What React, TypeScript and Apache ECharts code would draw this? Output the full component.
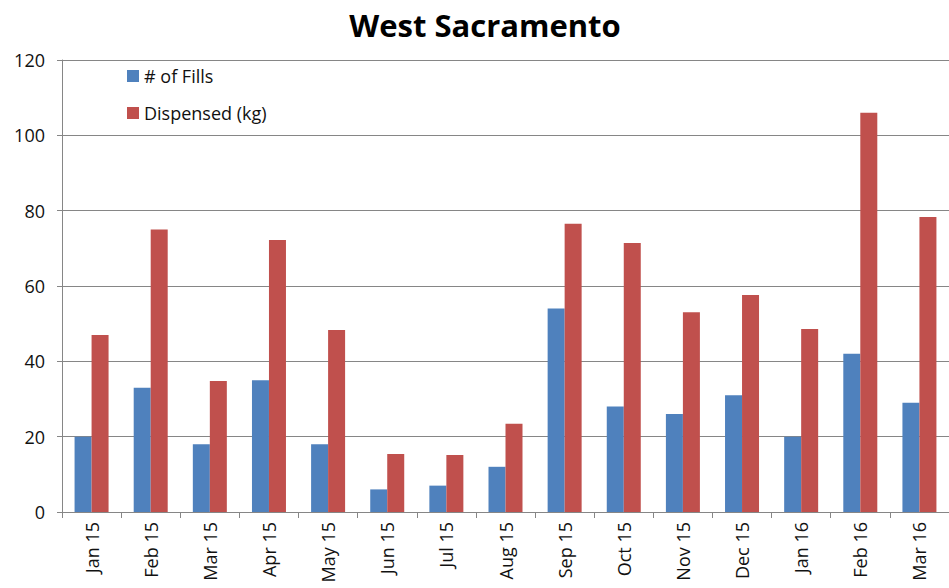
import React, { useEffect, useRef } from "react";
import * as echarts from "echarts";

const categories = ["Jan 15", "Feb 15", "Mar 15", "Apr 15", "May 15", "Jun 15", "Jul 15", "Aug 15", "Sep 15", "Oct 15", "Nov 15", "Dec 15", "Jan 16", "Feb 16", "Mar 16"];
const fills = [20, 33, 18, 35, 18, 6, 7, 12, 54, 28, 26, 31, 20, 42, 29];
const dispensed = [47, 75, 34.8, 72.2, 48.3, 15.4, 15.1, 23.4, 76.5, 71.4, 53, 57.6, 48.6, 106, 78.3];

const FONT = "'Open Sans', 'Noto Sans', sans-serif";

export default function App() {
  const ref = useRef<HTMLDivElement>(null);
  useEffect(() => {
    const chart = echarts.init(ref.current!, undefined, { renderer: "svg" });
    chart.setOption({
      animation: false,
      backgroundColor: "#ffffff",
      title: {
        text: "West Sacramento",
        left: 480,
        textAlign: "center",
        top: 4,
        textStyle: { fontFamily: FONT, fontWeight: "bold", fontSize: 31, color: "#000" },
      },
      legend: {
        orient: "vertical",
        left: 122,
        top: 62,
        itemGap: 19,
        itemWidth: 12,
        itemHeight: 12,
        icon: "rect",
        textStyle: { fontFamily: FONT, fontSize: 18, color: "#111" },
        data: ["# of Fills", "Dispensed (kg)"],
      },
      grid: { left: 62, right: -7, top: 60, bottom: 76, containLabel: false },
      xAxis: {
        type: "category",
        data: categories,
        axisLine: { lineStyle: { color: "#868686" } },
        axisTick: { show: true, length: 6, lineStyle: { color: "#868686" } },
        axisLabel: { rotate: 90, fontFamily: FONT, fontSize: 18, color: "#111", margin: 10 },
      },
      yAxis: {
        type: "value",
        min: 0,
        max: 120,
        interval: 20,
        axisLine: { show: true, lineStyle: { color: "#868686" } },
        axisTick: { show: true, length: 5, lineStyle: { color: "#868686" } },
        axisLabel: { fontFamily: FONT, fontSize: 18, color: "#111", margin: 17 },
        splitLine: { lineStyle: { color: "#868686" } },
      },
      series: [
        { name: "# of Fills", type: "bar", data: fills, barWidth: 17, barGap: "0%", itemStyle: { color: "#4F81BD" } },
        { name: "Dispensed (kg)", type: "bar", data: dispensed, barWidth: 17, barGap: "0%", itemStyle: { color: "#C0504D" } },
      ],
    });
    return () => chart.dispose();
  }, []);
  return <div ref={ref} style={{ width: 949, height: 588, position: "absolute", left: 0, top: 0 }} />;
}
